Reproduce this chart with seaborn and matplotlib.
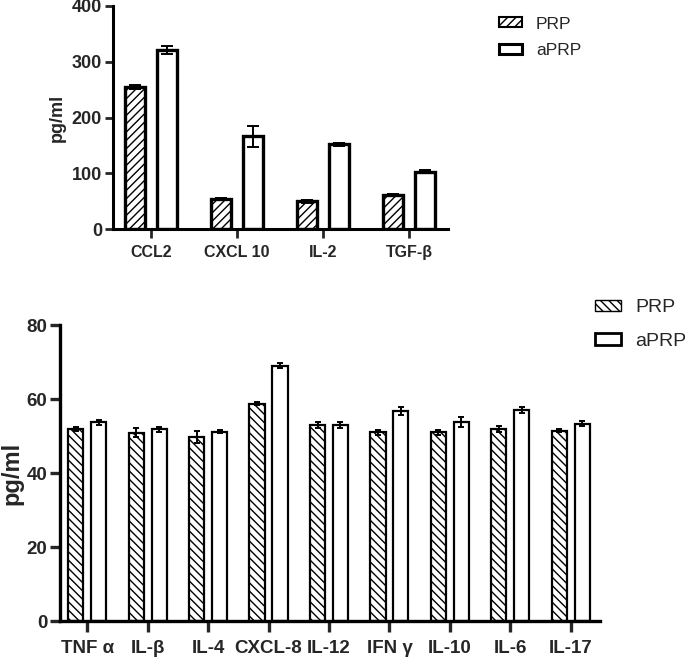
import pandas as pd
import matplotlib
matplotlib.use("Agg")
import matplotlib.pyplot as plt
import seaborn as sns
from matplotlib.patches import Patch

# ---- data ----
groups = ["PRP", "aPRP"]

top_cytokines = ["CCL2", "CXCL 10", "IL-2", "TGF-β"]
top_prp = [255, 54, 50, 61]
top_aprp = [321, 166, 152, 103]
top_prp_err = [3, 2.5, 2.5, 2]
top_aprp_err = [8, 19, 3, 2]
top_yticks = [0, 100, 200, 300, 400]

bottom_cytokines = ["TNF α", "IL-β", "IL-4", "CXCL-8", "IL-12", "IFN γ", "IL-10", "IL-6", "IL-17"]
bottom_prp = [52.0, 50.9, 49.7, 58.8, 52.9, 51.0, 51.0, 52.0, 51.5]
bottom_aprp = [53.7, 51.8, 51.2, 69.0, 53.1, 56.8, 53.8, 57.1, 53.3]
bottom_prp_err = [0.5, 1.2, 1.6, 0.5, 0.8, 0.6, 0.7, 0.8, 0.3]
bottom_aprp_err = [0.7, 0.6, 0.5, 0.7, 0.8, 1.0, 1.4, 0.8, 0.7]
bottom_yticks = [0, 20, 40, 60, 80]

sns.set_style("ticks")
plt.rcParams["font.family"] = ["Liberation Sans", "DejaVu Sans"]
plt.rcParams["hatch.linewidth"] = 1.0


def draw_panel(ax, cats, prp, aprp, prp_err, aprp_err, hatch, width, gap,
               edge_w, spine_w, capsize):
    n = len(cats)
    df = pd.DataFrame({
        "cytokine": cats * 2,
        "group": ["PRP"] * n + ["aPRP"] * n,
        "value": prp + aprp,
    })
    sns.barplot(data=df, x="cytokine", y="value", hue="group", order=cats,
                hue_order=groups, palette=["white", "white"], saturation=1,
                edgecolor="black", linewidth=edge_w, width=width, gap=gap,
                errorbar=None, legend=False, ax=ax)
    for cont, errs, h in zip(ax.containers, [prp_err, aprp_err], [hatch, None]):
        for bar, e in zip(cont, errs):
            if h:
                bar.set_hatch(h)
            x = bar.get_x() + bar.get_width() / 2
            ax.errorbar(x, bar.get_height(), yerr=e, color="black", lw=1.4,
                        capsize=capsize, capthick=1.4, zorder=5)
    sns.despine(ax=ax)
    for s in ["left", "bottom"]:
        ax.spines[s].set_linewidth(spine_w)
        ax.spines[s].set_color("black")
    ax.set_xlabel("")


fig = plt.figure(figsize=(6.85, 6.62), dpi=100)

# top panel
ax1 = fig.add_axes([0.165, 0.654, 0.489, 0.337])
draw_panel(ax1, top_cytokines, top_prp, top_aprp, top_prp_err, top_aprp_err,
           "////", 0.744, 0.37, 2.4, 2.2, 4)
ax1.set_xlim(-0.44, 3.45)
ax1.set_ylim(0, 400)
ax1.set_yticks(top_yticks)
ax1.tick_params(axis="y", length=6, width=2, labelsize=13, pad=2)
ax1.tick_params(axis="x", length=6.5, width=2, labelsize=11.5, pad=5)
for lab in ax1.get_xticklabels() + ax1.get_yticklabels():
    lab.set_fontweight("bold")
ax1.set_ylabel("pg/ml", fontsize=13, fontweight="bold", labelpad=4)

# bottom panel
ax2 = fig.add_axes([0.0876, 0.0619, 0.788, 0.447])
draw_panel(ax2, bottom_cytokines, bottom_prp, bottom_aprp, bottom_prp_err,
           bottom_aprp_err, "\\\\\\\\", 0.76, 0.34, 1.6, 2.4, 2.5)
ax2.set_xlim(-0.45, 8.48)
ax2.set_ylim(0, 80)
ax2.set_yticks(bottom_yticks)
ax2.tick_params(axis="y", length=7, width=2.4, labelsize=13.5, pad=2)
ax2.tick_params(axis="x", length=8, width=2.4, labelsize=13.5, pad=6)
for lab in ax2.get_xticklabels() + ax2.get_yticklabels():
    lab.set_fontweight("bold")
ax2.set_ylabel("pg/ml", fontsize=17, fontweight="bold", labelpad=2)

# legends
top_handles = [Patch(facecolor="white", edgecolor="black", hatch="////", lw=1.5, label="PRP"),
               Patch(facecolor="white", edgecolor="black", lw=2.2, label="aPRP")]
fig.legend(handles=top_handles, loc="upper left", bbox_to_anchor=(0.7285, 0.975),
           frameon=False, fontsize=12.5, handlelength=1.32, handleheight=0.52,
           handletextpad=0.8, labelspacing=0.65, borderpad=0, borderaxespad=0)

bottom_handles = [Patch(facecolor="white", edgecolor="black", hatch="\\\\\\\\", lw=1.0, label="PRP"),
                  Patch(facecolor="white", edgecolor="black", lw=2.0, label="aPRP")]
fig.legend(handles=bottom_handles, loc="upper left", bbox_to_anchor=(0.8686, 0.548),
           frameon=False, fontsize=14, handlelength=1.34, handleheight=0.52,
           handletextpad=0.72, labelspacing=0.85, borderpad=0, borderaxespad=0)

fig.savefig("out.png", dpi=100)
